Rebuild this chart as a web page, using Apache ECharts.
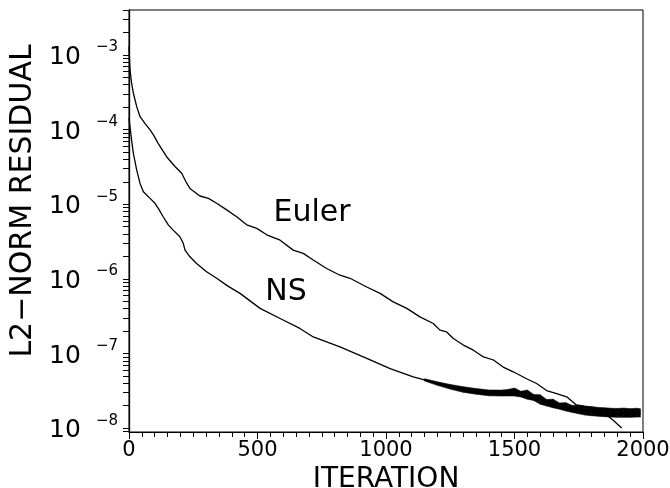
<!DOCTYPE html>
<html><head><meta charset="utf-8">
<script src="https://cdn.jsdelivr.net/npm/echarts@6/dist/echarts.min.js"></script>
<style>html,body{margin:0;padding:0;background:#fff}#c{width:670px;height:488px}</style>
</head><body><div id="c"></div>
<script>
// ---- data ----
const eulerIter = [0,2,4,10,17,30,43,62,82,88,95,114,147,179,205,225,237,276,309,341,380,419,458,497,536,588,639,678,717,769,821,860,925,977,1028,1081,1132,1184,1210,1236,1262,1301,1340,1379,1418,1456,1495,1547,1586,1625,1664,1703,1742,1781,1820,1859,1884,1917];
const eulerResid = [1.3e-3,9.0e-4,6.3e-4,4.2e-4,3.07e-4,2.03e-4,1.49e-4,1.21e-4,9.9e-5,1.05e-4,8.5e-5,6.5e-5,4.3e-5,3.2e-5,2.6e-5,1.9e-5,1.63e-5,1.29e-5,1.2e-5,1.03e-5,8.4e-6,6.8e-6,5.3e-6,4.75e-6,3.9e-6,3.3e-6,2.43e-6,2.2e-6,1.79e-6,1.38e-6,1.12e-6,1.02e-6,7.8e-7,6.4e-7,4.93e-7,4.03e-7,3.1e-7,2.53e-7,2.06e-7,1.95e-7,1.59e-7,1.3e-7,1.11e-7,9.0e-8,8.2e-8,6.6e-8,5.7e-8,4.6e-8,3.97e-8,3.2e-8,2.9e-8,2.63e-8,2.03e-8,1.93e-8,1.74e-8,1.49e-8,1.28e-8,1.01e-8];

const nsIter = [0,4,10,17,30,43,56,82,101,114,133,153,172,198,211,218,237,263,302,341,385,432,510,588,665,717,821,925,1016,1106,1210,1262,1314,1366,1417,1470,1521,1560,1599,1638,1690,1742,1781,1833,1884,1937,1990];
const nsResid = [1.43e-4,1.09e-4,7.3e-5,4.8e-5,2.87e-5,1.9e-5,1.47e-5,1.2e-5,1.03e-5,8.8e-6,6.8e-6,5.3e-6,4.5e-6,3.67e-6,3.0e-6,2.43e-6,1.98e-6,1.61e-6,1.25e-6,1.02e-6,8.0e-7,6.4e-7,4.03e-7,2.95e-7,2.17e-7,1.67e-7,1.23e-7,8.6e-8,6.3e-8,4.87e-8,3.89e-8,3.51e-8,3.23e-8,3.07e-8,2.92e-8,2.97e-8,2.92e-8,2.63e-8,2.32e-8,2.14e-8,1.93e-8,1.78e-8,1.71e-8,1.66e-8,1.60e-8,1.60e-8,1.60e-8];

// noisy envelope of the NS residual (late iterations)
const bandIter = [1150,1200,1250,1300,1350,1400,1450,1475,1500,1525,1550,1575,1600,1625,1650,1675,1700,1725,1750,1775,1800,1825,1850,1875,1900,1925,1950,1975,1990];
const bandLow  = [4.30e-8,3.75e-8,3.34e-8,3.03e-8,2.86e-8,2.72e-8,2.70e-8,2.71e-8,2.70e-8,2.62e-8,2.45e-8,2.35e-8,2.10e-8,1.98e-8,1.88e-8,1.80e-8,1.70e-8,1.63e-8,1.56e-8,1.50e-8,1.47e-8,1.45e-8,1.43e-8,1.41e-8,1.40e-8,1.40e-8,1.40e-8,1.41e-8,1.41e-8];
const bandHigh = [4.60e-8,4.18e-8,3.85e-8,3.60e-8,3.40e-8,3.25e-8,3.24e-8,3.30e-8,3.45e-8,3.12e-8,3.25e-8,2.82e-8,2.80e-8,2.42e-8,2.45e-8,2.18e-8,2.20e-8,2.02e-8,2.05e-8,1.98e-8,1.95e-8,1.90e-8,1.88e-8,1.85e-8,1.84e-8,1.86e-8,1.83e-8,1.85e-8,1.82e-8];

const xTickValues = [0,500,1000,1500,2000];
const yDecades = [1e-8,1e-7,1e-6,1e-5,1e-4,1e-3];
const curveNames = ['Euler','NS'];
const curveLabelIter = [712,611];
const curveLabelResid = [7.6e-6,6.65e-7];

// ---- build ----
const zip = (a,b) => a.map((v,i)=>[v,b[i]]);
const yTickAll = [];
for (let e=-9; e<=-3; e++) for (let k=1;k<=9;k++) {
  const v = k*Math.pow(10,e);
  if (v >= 8.9e-9 && v <= 4e-3) yTickAll.push(v);
}
const FONT = 'DejaVu Sans';
const chart = echarts.init(document.getElementById('c'), null, {renderer:'canvas'});
chart.setOption({
  animation:false,
  backgroundColor:'#fff',
  grid:{left:129,right:27,top:10,bottom:56,containLabel:false,outerBoundsMode:'none',
        show:true,borderColor:'#000',borderWidth:1},
  xAxis:{
    type:'value', min:0, max:2000, interval:500,
    axisLine:{show:true,lineStyle:{color:'#000',width:1}},
    axisTick:{show:true,inside:false,length:7,lineStyle:{color:'#000'}},
    minorTick:{show:true,splitNumber:10,length:5,lineStyle:{color:'#000'}},
    splitLine:{show:false},
    axisLabel:{customValues:xTickValues,formatter:v=>String(v),fontFamily:FONT,fontSize:21,color:'#000',margin:8,
      showMinLabel:true,showMaxLabel:true,hideOverlap:false},
    name:'ITERATION', nameLocation:'middle', nameGap:30,
    nameTextStyle:{fontFamily:FONT,fontSize:28,color:'#000'}
  },
  yAxis:{
    type:'log', logBase:10, min:8.9e-9, max:4e-3,
    axisLine:{show:true,lineStyle:{color:'#000',width:1.3}},
    axisTick:{show:true,inside:false,length:6,customValues:yTickAll,lineStyle:{color:'#000'}},
    splitLine:{show:false},
    axisLabel:{
      customValues:yDecades, margin:11, color:'#000',
      formatter:v=>'{b|10}{s|−'+Math.abs(Math.round(Math.log10(v)))+'}',
      rich:{
        b:{fontFamily:FONT,fontSize:25,color:'#000',padding:[5,0,0,0]},
        s:{fontFamily:FONT,fontSize:15,color:'#000',padding:[0,0,15,15]}
      }
    },
    name:'L2−NORM RESIDUAL', nameLocation:'middle', nameGap:88,
    nameTextStyle:{fontFamily:FONT,fontSize:30,color:'#000',padding:[0,0,0,40]}
  },
  series:[
    {type:'line',name:'Euler',data:zip(eulerIter,eulerResid),showSymbol:false,symbol:'none',
     lineStyle:{color:'#000',width:1.3},z:3},
    {type:'line',name:'NS',data:zip(nsIter,nsResid),showSymbol:false,symbol:'none',
     lineStyle:{color:'#000',width:1.3},z:3},
    {type:'custom',name:'NS band',
     data:bandIter.map((x,i)=>[x,bandLow[i],bandHigh[i]]),
     encode:{x:0,y:[1,2]},
     renderItem:(params,api)=>{
       const i = params.dataIndex;
       if (i >= bandIter.length-1) return null;
       const a = api.coord([bandIter[i],bandHigh[i]]);
       const b = api.coord([bandIter[i+1],bandHigh[i+1]]);
       const c = api.coord([bandIter[i+1],bandLow[i+1]]);
       const d = api.coord([bandIter[i],bandLow[i]]);
       return {type:'polygon',shape:{points:[a,b,c,d]},
               style:{fill:'#000',stroke:'#000',lineWidth:0.6}};
     },z:2},
    {type:'custom',name:'curve labels',
     data:curveNames.map((n,i)=>({name:n,value:[curveLabelIter[i],curveLabelResid[i]]})),
     encode:{x:0,y:1},
     renderItem:(params,api)=>{
       const p = api.coord([api.value(0),api.value(1)]);
       return {type:'text',x:p[0],y:p[1],
               style:{text:curveNames[params.dataIndex],fill:'#000',
                      font:'30px "DejaVu Sans"',align:'center',verticalAlign:'middle'}};
     },z:4}
  ]
});
</script></body></html>
